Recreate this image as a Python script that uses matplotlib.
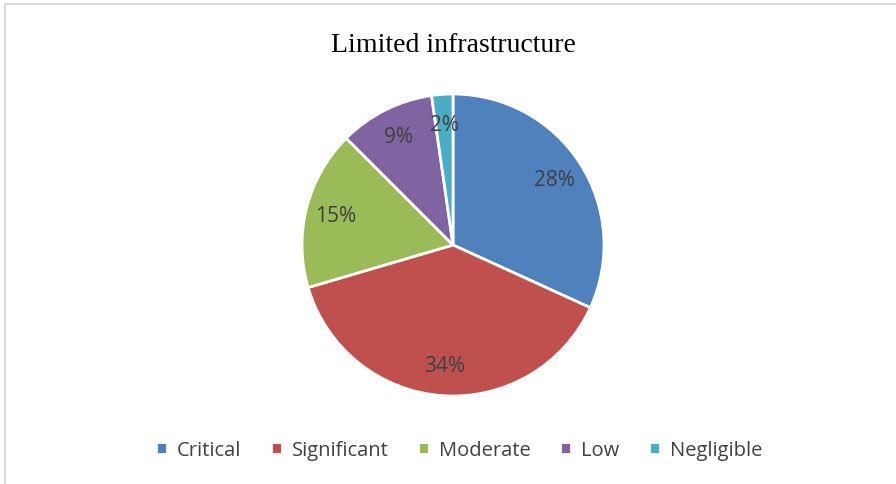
import matplotlib.pyplot as plt
from matplotlib.patches import Rectangle

categories = ["Critical", "Significant", "Moderate", "Low", "Negligible"]
shares = [28, 34, 15, 9, 2]
colors = ["#4F81BD", "#C0504D", "#9BBB59", "#8064A2", "#4BACC6"]

W, H = 896, 485
fig = plt.figure(figsize=(W / 100, H / 100), dpi=100)

# light chart-area frame
fig.patches.append(Rectangle((5 / W, -0.1), 1.2, 1 - 5 / H + 0.1, transform=fig.transFigure,
                             fill=False, edgecolor="#d9d9d9", linewidth=1.5))

# pie centre (453, 246), radius 151 px
r = 151
ax = fig.add_axes([(453 - r) / W, (H - 246 - r) / H, 2 * r / W, 2 * r / H])
wedges, texts, autotexts = ax.pie(
    shares,
    colors=colors,
    startangle=90,
    counterclock=False,
    autopct="%1.0f",
    pctdistance=0.8,
    wedgeprops=dict(edgecolor="white", linewidth=2),
    textprops=dict(fontsize=15, color="#404040", family="Open Sans"),
)
for t, v in zip(autotexts, shares):
    t.set_text(f"{v}%")
ax.set_xlim(-1, 1)
ax.set_ylim(-1, 1)
ax.set_aspect("equal")

fig.text(453 / W, 1 - 45 / H, "Limited infrastructure", ha="center", va="center",
         fontsize=20, family="Liberation Serif", color="black")

fig.legend(wedges, categories, loc="center", bbox_to_anchor=(459 / W, 1 - 451 / H),
           ncol=5, frameon=False, handlelength=0.55, handleheight=0.55, handletextpad=0.5,
           columnspacing=1.45, prop=dict(family="Open Sans", size=14.5), labelcolor="#404040")

fig.savefig("out.png", dpi=100)
